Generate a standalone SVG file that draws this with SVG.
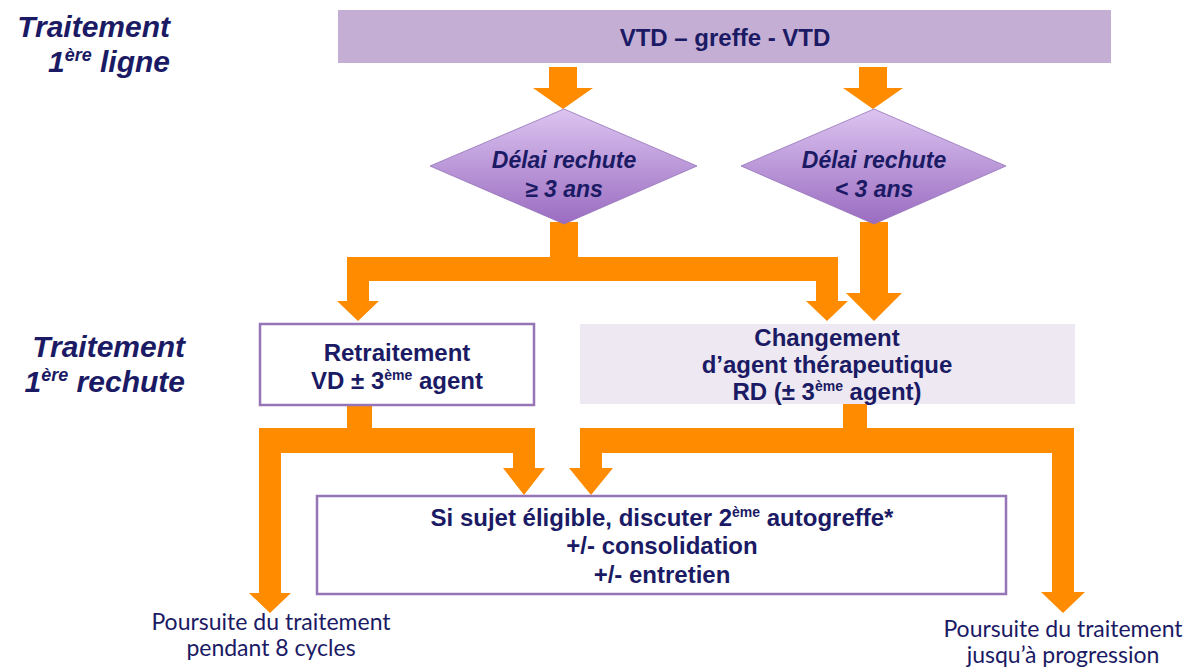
<svg xmlns="http://www.w3.org/2000/svg" width="1187" height="668" viewBox="0 0 1187 668">
<defs>
<linearGradient id="dg" x1="0" y1="0" x2="0" y2="1">
<stop offset="0" stop-color="#dcc4f0"/>
<stop offset="1" stop-color="#9a6cc1"/>
</linearGradient>
<style>
.lbl{font-family:"Liberation Sans",Arial,sans-serif;font-weight:bold;font-style:italic;font-size:30px;fill:#1b1a64;text-anchor:end}
.bx{font-family:"Liberation Sans",Arial,sans-serif;font-weight:bold;font-size:24px;fill:#1b1a64;text-anchor:middle}
.dm{font-family:"Liberation Sans",Arial,sans-serif;font-weight:bold;font-style:italic;font-size:23px;fill:#1b1a64;text-anchor:middle}
.ft{font-family:Lato,"Open Sans",sans-serif;font-size:23px;fill:#1b1a64;text-anchor:middle}
.sup{font-size:14px}
.lsup{font-size:18px}
.arr{fill:#ff8c00}
.outl{fill:#ffffff;stroke:#9575b6;stroke-width:2.5}
</style>
</defs>
<rect width="1187" height="668" fill="#ffffff"/>

<g id="label-1ere-ligne">
<text class="lbl" x="170" y="37">Traitement</text>
<text class="lbl" x="170" y="72">1<tspan class="lsup" dy="-11">ère</tspan><tspan dy="11"> ligne</tspan></text>
</g>
<g id="label-1ere-rechute">
<text class="lbl" x="185" y="357">Traitement</text>
<text class="lbl" x="185" y="392">1<tspan class="lsup" dy="-11">ère</tspan><tspan dy="11"> rechute</tspan></text>
</g>

<g id="connectors">
<polygon class="arr" points="549,67 577,67 577,88 593,88 563,109 533,88 549,88"/>
<polygon class="arr" points="859,67 887,67 887,88 903,88 873,109 843,88 859,88"/>
<polygon class="arr" points="550,222 550,257 347,257 347,301 337,301 358,321 379,301 369,301 369,281 816,281 816,301 806,301 827,321 848,301 838,301 838,257 578,257 578,222"/>
<polygon class="arr" points="860,222 888,222 888,293 902,293 874,321 846,293 860,293"/>
<polygon class="arr" points="347,405 347,428 259,428 259,593 249,593 270,613 291,593 281,593 281,453 513,453 513,468 503,468 524,495 545,468 535,468 535,428 372,428 372,405"/>
<polygon class="arr" points="843,404 843,428 580,428 580,468 569,468 591,495 613,468 602,468 602,453 1052,453 1052,592 1041,592 1063,613 1085,592 1074,592 1074,428 867,428 867,404"/>
</g>

<g id="node-vtd">
<rect x="338" y="10" width="773" height="53" fill="#c5aed4"/>
<text class="bx" x="725" y="46">VTD – greffe - VTD</text>
</g>

<g id="node-delai-ge3">
<polygon points="564,109 697,166 564,224 430,166" fill="url(#dg)" stroke="#9473b8" stroke-width="0.8"/>
<text class="dm" x="564" y="168">Délai rechute</text>
<text class="dm" x="564" y="197">≥ 3 ans</text>
</g>

<g id="node-delai-lt3">
<polygon points="874,109 1006,166 874,224 741,166" fill="url(#dg)" stroke="#9473b8" stroke-width="0.8"/>
<text class="dm" x="874" y="168">Délai rechute</text>
<text class="dm" x="874" y="197">&lt; 3 ans</text>
</g>

<g id="node-retraitement">
<rect class="outl" x="260" y="324" width="274" height="81"/>
<text class="bx" x="397" y="361">Retraitement</text>
<text class="bx" x="397" y="389">VD ± 3<tspan class="sup" dy="-9">ème</tspan><tspan dy="9"> agent</tspan></text>
</g>

<g id="node-changement">
<rect x="580" y="324" width="495" height="80" fill="#ede8f1"/>
<text class="bx" x="827" y="346">Changement</text>
<text class="bx" x="827" y="373">d’agent thérapeutique</text>
<text class="bx" x="827" y="400">RD (± 3<tspan class="sup" dy="-9">ème</tspan><tspan dy="9"> agent)</tspan></text>
</g>

<g id="node-autogreffe">
<rect class="outl" x="317" y="496" width="689" height="98"/>
<text class="bx" x="662" y="526">Si sujet éligible, discuter 2<tspan class="sup" dy="-9">ème</tspan><tspan dy="9"> autogreffe*</tspan></text>
<text class="bx" x="662" y="554">+/- consolidation</text>
<text class="bx" x="662" y="583">+/- entretien</text>
</g>

<g id="node-poursuite-8">
<text class="ft" x="271" y="630">Poursuite du traitement</text>
<text class="ft" x="271" y="656">pendant 8 cycles</text>
</g>

<g id="node-poursuite-progression">
<text class="ft" x="1063" y="637">Poursuite du traitement</text>
<text class="ft" x="1063" y="663">jusqu’à progression</text>
</g>
</svg>
